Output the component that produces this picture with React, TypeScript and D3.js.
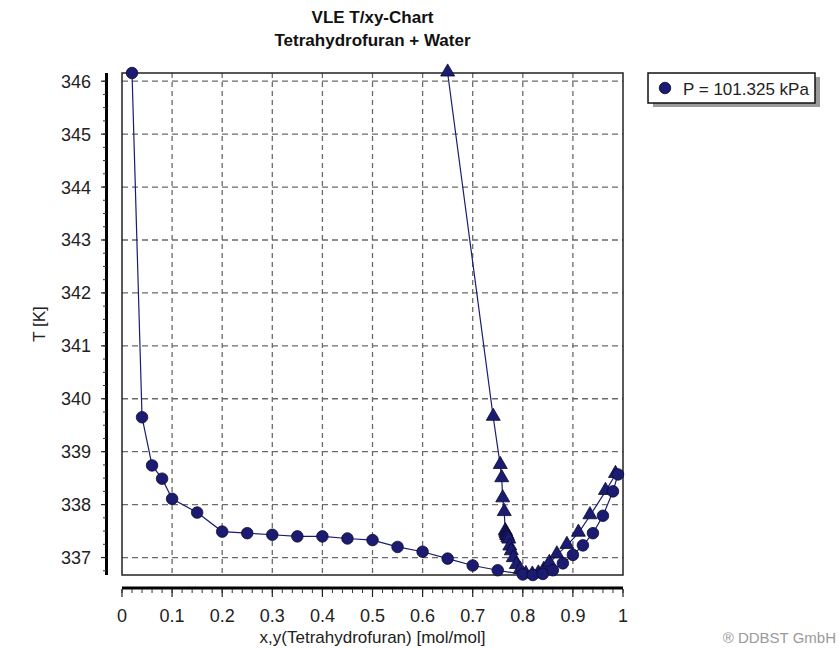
import * as d3 from "d3";

// liquid composition x (circles) and boiling temperature
const liquidX = [0.02, 0.04, 0.06, 0.08, 0.1, 0.15, 0.2, 0.25, 0.3, 0.35, 0.4, 0.45, 0.5, 0.55, 0.6, 0.65, 0.7, 0.75, 0.8, 0.82, 0.84, 0.86, 0.88, 0.9, 0.92, 0.94, 0.96, 0.98, 0.99];
const temps = [346.155, 339.65, 338.74, 338.49, 338.11, 337.85, 337.49, 337.46, 337.43, 337.4, 337.4, 337.36, 337.33, 337.2, 337.11, 336.98, 336.85, 336.76, 336.68, 336.67, 336.69, 336.76, 336.89, 337.05, 337.23, 337.46, 337.79, 338.25, 338.57];
// vapour composition y (triangles) at the same temperatures
const vaporY = [0.65, 0.741, 0.755, 0.758, 0.76, 0.763, 0.765, 0.766, 0.767, 0.768, 0.769, 0.77, 0.772, 0.774, 0.777, 0.781, 0.787, 0.795, 0.806, 0.819, 0.831, 0.842, 0.853, 0.868, 0.888, 0.911, 0.934, 0.965, 0.985];

const xTicks = [0, 0.1, 0.2, 0.3, 0.4, 0.5, 0.6, 0.7, 0.8, 0.9, 1];
const yTicks = [337, 338, 339, 340, 341, 342, 343, 344, 345, 346];

export default function App() {
  const width = 839;
  const height = 649;
  const left = 122, right = 623, top = 73, bottom = 575;
  const font = "'Liberation Sans', Arial, sans-serif";
  const navy = "#1b1b72";

  const x = d3.scaleLinear().domain([0, 1]).range([left, right]);
  const y = d3.scaleLinear().domain([336.67, 346.155]).range([bottom, top]);

  const liquid = liquidX.map((v, i) => [v, temps[i]] as [number, number]);
  const vapor = vaporY.map((v, i) => [v, temps[i]] as [number, number]);
  const line = d3.line<[number, number]>().x(d => x(d[0])).y(d => y(d[1]));
  const tri = d3.symbol().type(d3.symbolTriangle).size(85)();
  const dot = d3.symbol().type(d3.symbolCircle).size(105)();

  const xMinor = d3.range(0, 1.0001, 0.02);
  const yMinor = d3.range(336.75, 346.1, 0.25);

  return (
    <svg width={width} height={height} style={{ position: "absolute", left: 0, top: 0, background: "#fff" }}>
      {/* title */}
      <text x={(left + right) / 2} y={23} textAnchor="middle" fontFamily={font} fontWeight="bold" fontSize={17} fill="#111">
        VLE T/xy-Chart
      </text>
      <text x={(left + right) / 2} y={46} textAnchor="middle" fontFamily={font} fontWeight="bold" fontSize={17} fill="#111">
        Tetrahydrofuran + Water
      </text>

      {/* grid */}
      {xTicks.slice(1, -1).map(t => (
        <line key={"gx" + t} x1={x(t)} x2={x(t)} y1={top} y2={bottom} stroke="#6a6a6a" strokeWidth={1.3} strokeDasharray="5,4" />
      ))}
      {yTicks.map(t => (
        <line key={"gy" + t} x1={left} x2={right} y1={y(t)} y2={y(t)} stroke="#6a6a6a" strokeWidth={1.3} strokeDasharray="6,4" />
      ))}

      {/* plot frame */}
      <rect x={left} y={top} width={right - left} height={bottom - top} fill="none" stroke="#222" strokeWidth={1.5} />

      {/* y axis */}
      <line x1={106.5} x2={106.5} y1={top} y2={bottom} stroke="#000" strokeWidth={3} />
      {yMinor.map(t => (
        <line key={"ym" + t} x1={103} x2={106} y1={y(t)} y2={y(t)} stroke="#333" strokeWidth={1} />
      ))}
      {yTicks.map(t => (
        <g key={"yt" + t}>
          <line x1={101} x2={106} y1={y(t)} y2={y(t)} stroke="#222" strokeWidth={1.2} />
          <text x={91} y={y(t) + 6.5} textAnchor="end" fontFamily={font} fontSize={18} fill="#222">
            {t}
          </text>
        </g>
      ))}
      <text transform={`translate(45,${(top + bottom) / 2}) rotate(-90)`} textAnchor="middle" fontFamily={font} fontSize={17} fill="#222">
        T [K]
      </text>

      {/* x axis */}
      <line x1={left} x2={right} y1={588} y2={588} stroke="#000" strokeWidth={3} />
      {xMinor.map(t => (
        <line key={"xm" + t} x1={x(t)} x2={x(t)} y1={589} y2={593} stroke="#333" strokeWidth={1} />
      ))}
      {xTicks.map(t => (
        <g key={"xt" + t}>
          <line x1={x(t)} x2={x(t)} y1={589} y2={597} stroke="#222" strokeWidth={1.2} />
          <text x={x(t)} y={622} textAnchor="middle" fontFamily={font} fontSize={18} fill="#222">
            {t}
          </text>
        </g>
      ))}
      <text x={(left + right) / 2} y={643} textAnchor="middle" fontFamily={font} fontSize={17} fill="#222">
        x,y(Tetrahydrofuran) [mol/mol]
      </text>

      {/* curves */}
      <path d={line(liquid) ?? ""} fill="none" stroke={navy} strokeWidth={1.2} />
      <path d={line(vapor) ?? ""} fill="none" stroke={navy} strokeWidth={1.2} />
      {vapor.map((d, i) => (
        <path key={"v" + i} d={tri} transform={`translate(${x(d[0])},${y(d[1]) - 1})`} fill={navy} stroke="#0a0a30" strokeWidth={0.8} />
      ))}
      {liquid.map((d, i) => (
        <path key={"l" + i} d={dot} transform={`translate(${x(d[0])},${y(d[1])})`} fill={navy} stroke="#0a0a30" strokeWidth={0.8} />
      ))}

      {/* legend */}
      <rect x={653} y={77} width={167} height={30} fill="#9a9a9a" />
      <rect x={648} y={73} width={167} height={30} fill="#fff" stroke="#111" strokeWidth={1.5} />
      <path d={dot} transform="translate(665,88)" fill={navy} stroke="#0a0a30" strokeWidth={0.8} />
      <text x={683} y={95} fontFamily={font} fontSize={17} fill="#222">
        P = 101.325 kPa
      </text>

      {/* watermark */}
      <text x={836} y={643} textAnchor="end" fontFamily={font} fontSize={15} fill="#9a9a9a">
        ® DDBST GmbH
      </text>
    </svg>
  );
}
